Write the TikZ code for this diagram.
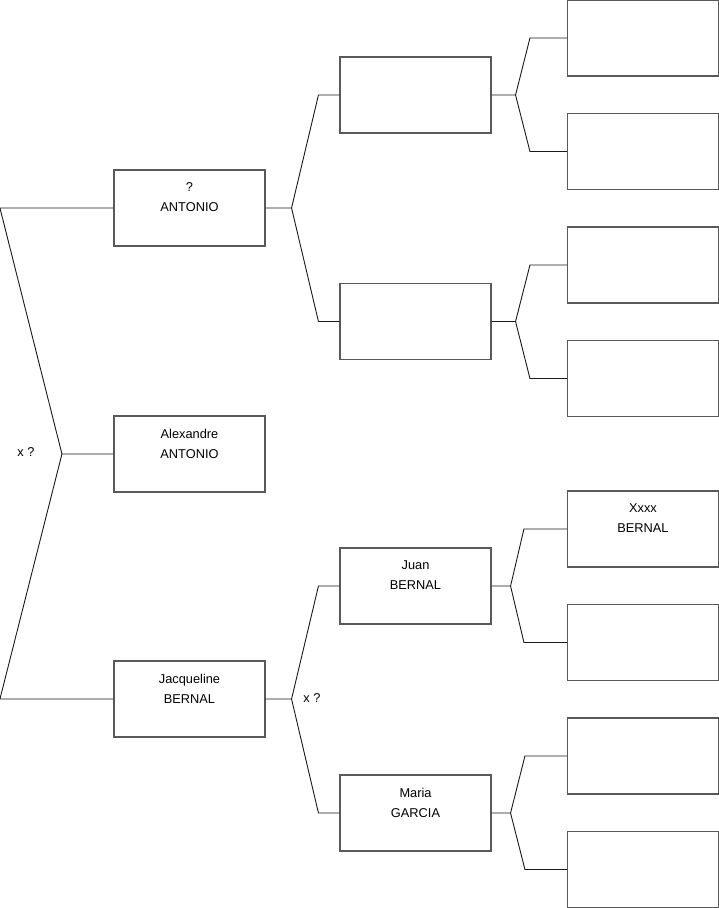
\documentclass[tikz,border=0pt]{standalone}
\usepackage{fontspec}
\setmainfont{Liberation Sans}
\usetikzlibrary{positioning, calc}

\tikzset{
  person/.style={draw=black!65, line width=1.1pt, minimum width=151pt,
    minimum height=76pt, inner sep=0pt, align=center,
    font=\fontsize{12.8}{20}\selectfont, text depth=21pt},
  link/.style={draw=black!90, line width=0.9pt},
  tag/.style={font=\fontsize{12.8}{14}\selectfont},
}

\begin{document}
\begin{tikzpicture}[x=1pt, y=-1pt]
\useasboundingbox (0,0) rectangle (719,908);
% generation 1
\node[person] (p1) at (189.5,208) {?\\ANTONIO};
\node[person] (p2) at (189.5,454) {Alexandre\\ANTONIO};
\node[person] (p3) at (189.5,699) {Jacqueline\\BERNAL};
% generation 2
\node[person] (q1) at (415.5,95) {};
\node[person] (q2) at (415.5,321.5) {};
\node[person] (q3) at (415.5,586) {Juan\\BERNAL};
\node[person] (q4) at (415.5,813) {Maria\\GARCIA};
% generation 3
\node[person] (g1) at (643,38) {};
\node[person] (g2) at (643,151.5) {};
\node[person] (g3) at (643,265) {};
\node[person] (g4) at (643,378.5) {};
\node[person] (g5) at (643,529) {Xxxx\\BERNAL};
\node[person] (g6) at (643,642.5) {};
\node[person] (g7) at (643,756) {};
\node[person] (g8) at (643,869.5) {};

% root fork
\draw[link] (p2.west) -- ++(-51.5,0) coordinate (j0)
  -- ([xshift=-113.5pt]p1.west) -- (p1.west);
\draw[link] (j0) -- ([xshift=-113.5pt]p3.west) -- (p3.west);
\node[tag] (m1) at (26,452) {x ?};

% forks to generation 2
\foreach \c/\a/\b in {p1/q1/q2, p3/q3/q4} {
  \draw[link] (\c.east) -- ++(26,0) coordinate (j\c)
    -- ([xshift=-21pt]\a.west) -- (\a.west);
  \draw[link] (j\c) -- ([xshift=-21pt]\b.west) -- (\b.west);
}
\node[tag] (m2) at (312,698) {x ?};

% forks to generation 3
\foreach \c/\a/\b/\s/\t in {q1/g1/g2/24/37, q2/g3/g4/24/37,
                             q3/g5/g6/19/43, q4/g7/g8/19/42} {
  \draw[link] (\c.east) -- ++(\s,0) coordinate (j\c)
    -- ([xshift=-\t pt]\a.west) -- (\a.west);
  \draw[link] (j\c) -- ([xshift=-\t pt]\b.west) -- (\b.west);
}
\end{tikzpicture}
\end{document}
